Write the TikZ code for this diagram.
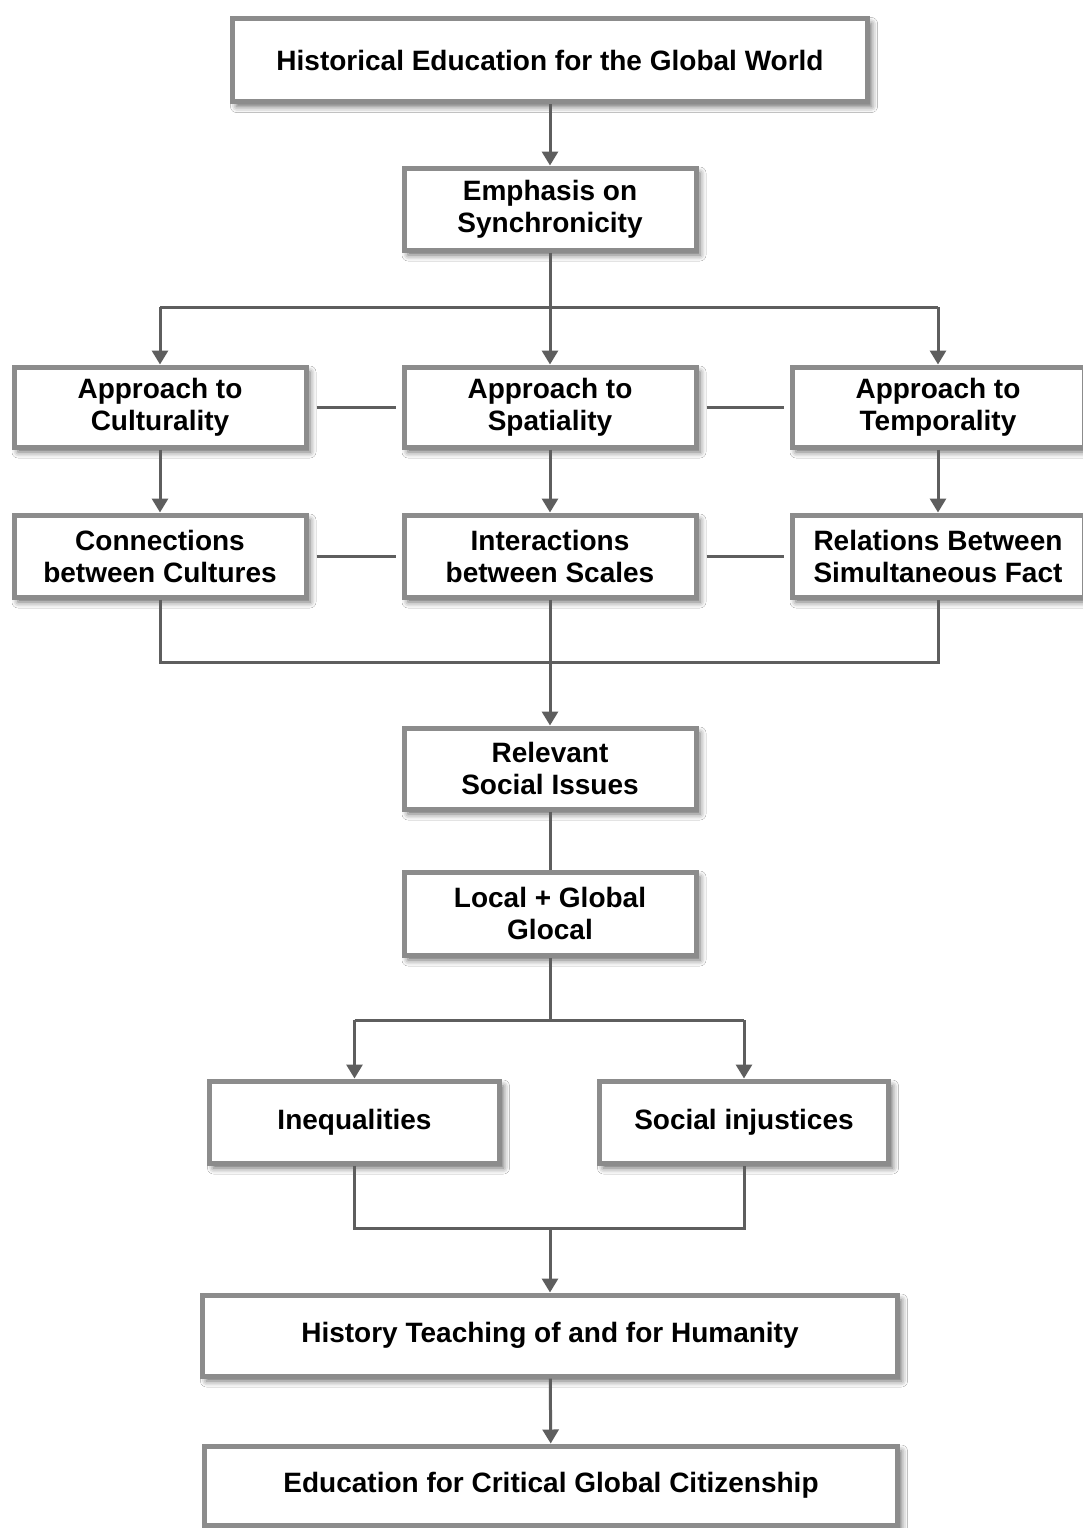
\documentclass[tikz,border=0pt]{standalone}
\usepackage{fontspec}
\setmainfont{Liberation Sans}
\usetikzlibrary{arrows.meta,shadows.blur}
\definecolor{boxline}{HTML}{8C8C8C}
\definecolor{conn}{HTML}{5E5E5E}
\tikzset{
  box/.style={draw=boxline, line width=2.5pt, fill=white, rectangle,
    align=center, inner sep=0pt, text=black,
    font=\bfseries\fontsize{14}{16}\selectfont,
    blur shadow={shadow xshift=2pt, shadow yshift=-2.5pt,
      shadow blur radius=3pt, shadow opacity=60}},
  ln/.style={draw=conn, line width=1.5pt},
  arr/.style={ln, -{Triangle[width=8pt,length=7pt]}},
}
% box: name, centre, width, height, text
\newcommand\flowbox[5]{%
  \node[box, minimum width=#3, minimum height=#4] (#1) at #2 {#5};}
\begin{document}
\begin{tikzpicture}[x=0.5pt, y=-0.5pt]
\useasboundingbox[fill=white] (0,0) rectangle (1083,1528);

% boxes
\flowbox{top}{(550,60)}{317.5pt}{41.5pt}{Historical Education for the Global World}
\flowbox{sync}{(550,209)}{146pt}{41pt}{Emphasis on\\Synchronicity}
\flowbox{cult}{(160,407)}{146pt}{40pt}{Approach to\\Culturality}
\flowbox{spat}{(550,407)}{146pt}{40pt}{Approach to\\Spatiality}
\flowbox{temp}{(938,407)}{146pt}{40pt}{Approach to\\Temporality}
\flowbox{conc}{(160,556)}{146pt}{41pt}{Connections\\between Cultures}
\flowbox{inter}{(550,556)}{146pt}{41pt}{Interactions\\between Scales}
\flowbox{rel}{(938,556)}{146pt}{41pt}{Relations Between\\Simultaneous Fact}
\flowbox{issues}{(550,768.5)}{146pt}{40.5pt}{Relevant\\Social Issues}
\flowbox{glocal}{(550,913.5)}{146pt}{41.5pt}{Local + Global\\Glocal}
\flowbox{ineq}{(354.5,1122)}{145pt}{41pt}{Inequalities}
\flowbox{injust}{(744,1122)}{144.5pt}{41pt}{Social injustices}
\flowbox{human}{(550,1335.5)}{347.5pt}{40.5pt}{History Teaching of and for Humanity}
\flowbox{citizen}{(551,1485.5)}{346.5pt}{39.5pt}{Education for Critical Global Citizenship}

% junction points
\coordinate (j1) at (550,307);
\coordinate (j2) at (550,662);
\coordinate (j3) at (550,1020);
\coordinate (j4) at (550,1228);

% connectors
\draw[arr] (top) -- (sync);
\draw[ln] (sync.south) -- (j1);
\draw[ln] (cult.north |- j1) -- (temp.north |- j1);
\draw[arr] (cult.north |- j1) -- (cult.north);
\draw[arr] (j1) -- (spat.north);
\draw[arr] (temp.north |- j1) -- (temp.north);

\draw[ln, shorten <=4pt, shorten >=3pt] (cult) -- (spat);
\draw[ln, shorten <=4pt, shorten >=3pt] (spat) -- (temp);
\draw[ln, shorten <=4pt, shorten >=3pt] (conc) -- (inter);
\draw[ln, shorten <=4pt, shorten >=3pt] (inter) -- (rel);

\draw[arr] (cult) -- (conc);
\draw[arr] (spat) -- (inter);
\draw[arr] (temp) -- (rel);

\draw[ln] (conc.south) -- (conc.south |- j2) -- (rel.south |- j2) -- (rel.south);
\draw[ln] (inter.south) -- (j2);
\draw[arr] (j2) -- (issues.north);

\draw[ln] (issues) -- (glocal);

\draw[ln] (glocal.south) -- (j3);
\draw[ln] (ineq.north |- j3) -- (injust.north |- j3);
\draw[arr] (ineq.north |- j3) -- (ineq.north);
\draw[arr] (injust.north |- j3) -- (injust.north);

\draw[ln] (ineq.south) -- (ineq.south |- j4) -- (injust.south |- j4) -- (injust.south);
\draw[arr] (j4) -- (human.north);

\draw[arr] (human) -- (citizen);
\end{tikzpicture}
\end{document}
